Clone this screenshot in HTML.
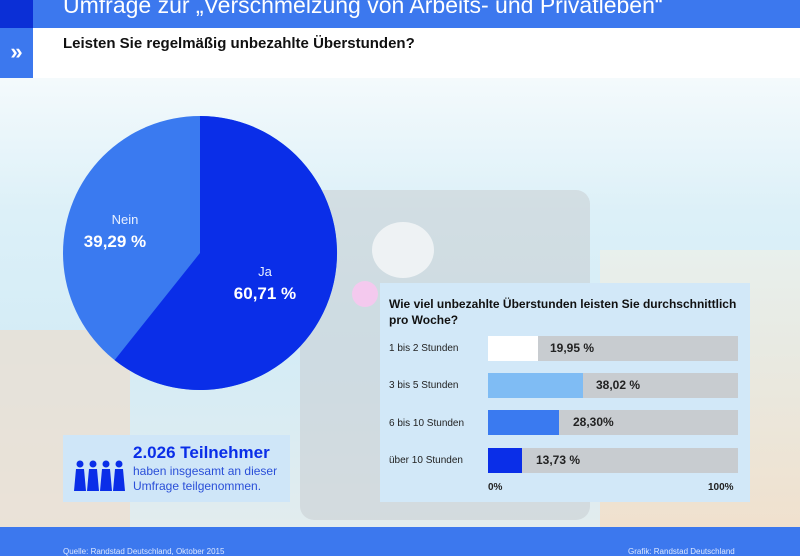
<!DOCTYPE html>
<html><head><meta charset="utf-8"><style>
*{margin:0;padding:0;box-sizing:border-box}
body{width:800px;height:556px;overflow:hidden;font-family:"Liberation Sans",sans-serif;position:relative;background:#e6f3f8}
.abs{position:absolute}
</style></head><body>
<div class="abs" style="left:0;top:78px;width:800px;height:449px;background:linear-gradient(180deg,#f4fafc 0%,#dcf0f8 30%,#d4ecf6 60%,#e2ecee 100%)"></div>
<div class="abs" style="left:0;top:330px;width:130px;height:197px;background:#f0dcc8;opacity:.6"></div>
<div class="abs" style="left:600px;top:250px;width:200px;height:277px;background:linear-gradient(180deg,#eef0e8,#f6dcc0);opacity:.7"></div>
<div class="abs" style="left:300px;top:190px;width:290px;height:330px;background:#c9cdd1;border-radius:14px;opacity:.55"></div>
<div class="abs" style="left:372px;top:222px;width:62px;height:56px;background:#eef2f4;border-radius:50%"></div>
<div class="abs" style="left:352px;top:281px;width:26px;height:26px;background:#f4c9ee;border-radius:50%"></div>
<!-- header -->
<div class="abs" style="left:0;top:0;width:33px;height:28px;background:#0b2fd6"></div>
<div class="abs" style="left:33px;top:0;width:767px;height:28px;background:#3c78ee;color:#fff;font-size:23px;line-height:10px;padding-left:30px;overflow:hidden">Umfrage zur „Verschmelzung von Arbeits- und Privatleben“</div>
<div class="abs" style="left:0;top:28px;width:33px;height:50px;background:#3c78ee;color:#fff;font-size:22px;font-weight:bold;text-align:center;line-height:48px">»</div>
<div class="abs" style="left:33px;top:28px;width:767px;height:50px;background:#fff"></div>
<div class="abs" style="left:63px;top:35px;font-size:15px;font-weight:bold;color:#111">Leisten Sie regelmäßig unbezahlte Überstunden?</div>
<!-- pie -->
<svg class="abs" style="left:0;top:0" width="800" height="556">
<circle cx="200" cy="253" r="137" fill="#3a7af0"/>
<path d="M200 253 L200 116 A137 137 0 1 1 114.6 360.1 Z" fill="#0a2ee8"/>
</svg>
<div class="abs" style="left:80px;top:212px;width:90px;text-align:center;color:#e8f0ff;font-size:13px">Nein</div>
<div class="abs" style="left:60px;top:232px;width:110px;text-align:center;color:#fff;font-size:17px;font-weight:bold">39,29 %</div>
<div class="abs" style="left:225px;top:264px;width:80px;text-align:center;color:#e8f0ff;font-size:13px">Ja</div>
<div class="abs" style="left:205px;top:284px;width:120px;text-align:center;color:#fff;font-size:17px;font-weight:bold">60,71 %</div>
<!-- info -->
<div class="abs" style="left:63px;top:435px;width:227px;height:67px;background:#cfe6f8"></div>
<svg class="abs" style="left:74px;top:460px" width="52" height="32">
<g fill="#0a2ee8">
<circle cx="6" cy="4" r="3.5"/><path d="M2 9h8l2 22H0z"/>
<circle cx="19" cy="4" r="3.5"/><path d="M15 9h8l2 22H13z"/>
<circle cx="32" cy="4" r="3.5"/><path d="M28 9h8l2 22H26z"/>
<circle cx="45" cy="4" r="3.5"/><path d="M41 9h8l2 22H39z"/>
</g></svg>
<div class="abs" style="left:133px;top:443px;font-size:17px;font-weight:bold;color:#0a2ee8">2.026 Teilnehmer</div>
<div class="abs" style="left:133px;top:464px;font-size:12px;color:#2a4fd8;line-height:15px">haben insgesamt an dieser<br>Umfrage teilgenommen.</div>
<!-- bar panel -->
<div class="abs" style="left:380px;top:283px;width:370px;height:219px;background:#d2e8f8"></div>
<div class="abs" style="left:389px;top:296px;font-size:12px;font-weight:bold;color:#111;line-height:16px">Wie viel unbezahlte Überstunden leisten Sie durchschnittlich<br>pro Woche?</div>
<div class="abs" style="left:389px;top:343px;font-size:10px;color:#222">1 bis 2 Stunden</div>
<div class="abs" style="left:389px;top:380px;font-size:10px;color:#222">3 bis 5 Stunden</div>
<div class="abs" style="left:389px;top:418px;font-size:10px;color:#222">6 bis 10 Stunden</div>
<div class="abs" style="left:389px;top:455px;font-size:10px;color:#222">über 10 Stunden</div>
<div class="abs" style="left:488px;top:336px;width:250px;height:25px;background:#c8ccd0"></div>
<div class="abs" style="left:488px;top:336px;width:50px;height:25px;background:#fff"></div>
<div class="abs" style="left:550px;top:341px;font-size:12px;font-weight:bold;color:#222">19,95 %</div>
<div class="abs" style="left:488px;top:373px;width:250px;height:25px;background:#c8ccd0"></div>
<div class="abs" style="left:488px;top:373px;width:95px;height:25px;background:#7fbcf4"></div>
<div class="abs" style="left:596px;top:378px;font-size:12px;font-weight:bold;color:#222">38,02 %</div>
<div class="abs" style="left:488px;top:410px;width:250px;height:25px;background:#c8ccd0"></div>
<div class="abs" style="left:488px;top:410px;width:71px;height:25px;background:#3a7af0"></div>
<div class="abs" style="left:573px;top:415px;font-size:12px;font-weight:bold;color:#222">28,30%</div>
<div class="abs" style="left:488px;top:448px;width:250px;height:25px;background:#c8ccd0"></div>
<div class="abs" style="left:488px;top:448px;width:34px;height:25px;background:#0a2ee8"></div>
<div class="abs" style="left:536px;top:453px;font-size:12px;font-weight:bold;color:#222">13,73 %</div>
<div class="abs" style="left:488px;top:482px;font-size:10px;font-weight:bold;color:#222">0%</div>
<div class="abs" style="left:708px;top:482px;font-size:10px;font-weight:bold;color:#222">100%</div>
<!-- footer -->
<div class="abs" style="left:0;top:527px;width:800px;height:29px;background:#3c78ee"></div>
<div class="abs" style="left:63px;top:547px;font-size:8px;color:#dde8ff">Quelle: Randstad Deutschland, Oktober 2015</div>
<div class="abs" style="left:628px;top:547px;font-size:8px;color:#dde8ff">Grafik: Randstad Deutschland</div>
</body></html>
